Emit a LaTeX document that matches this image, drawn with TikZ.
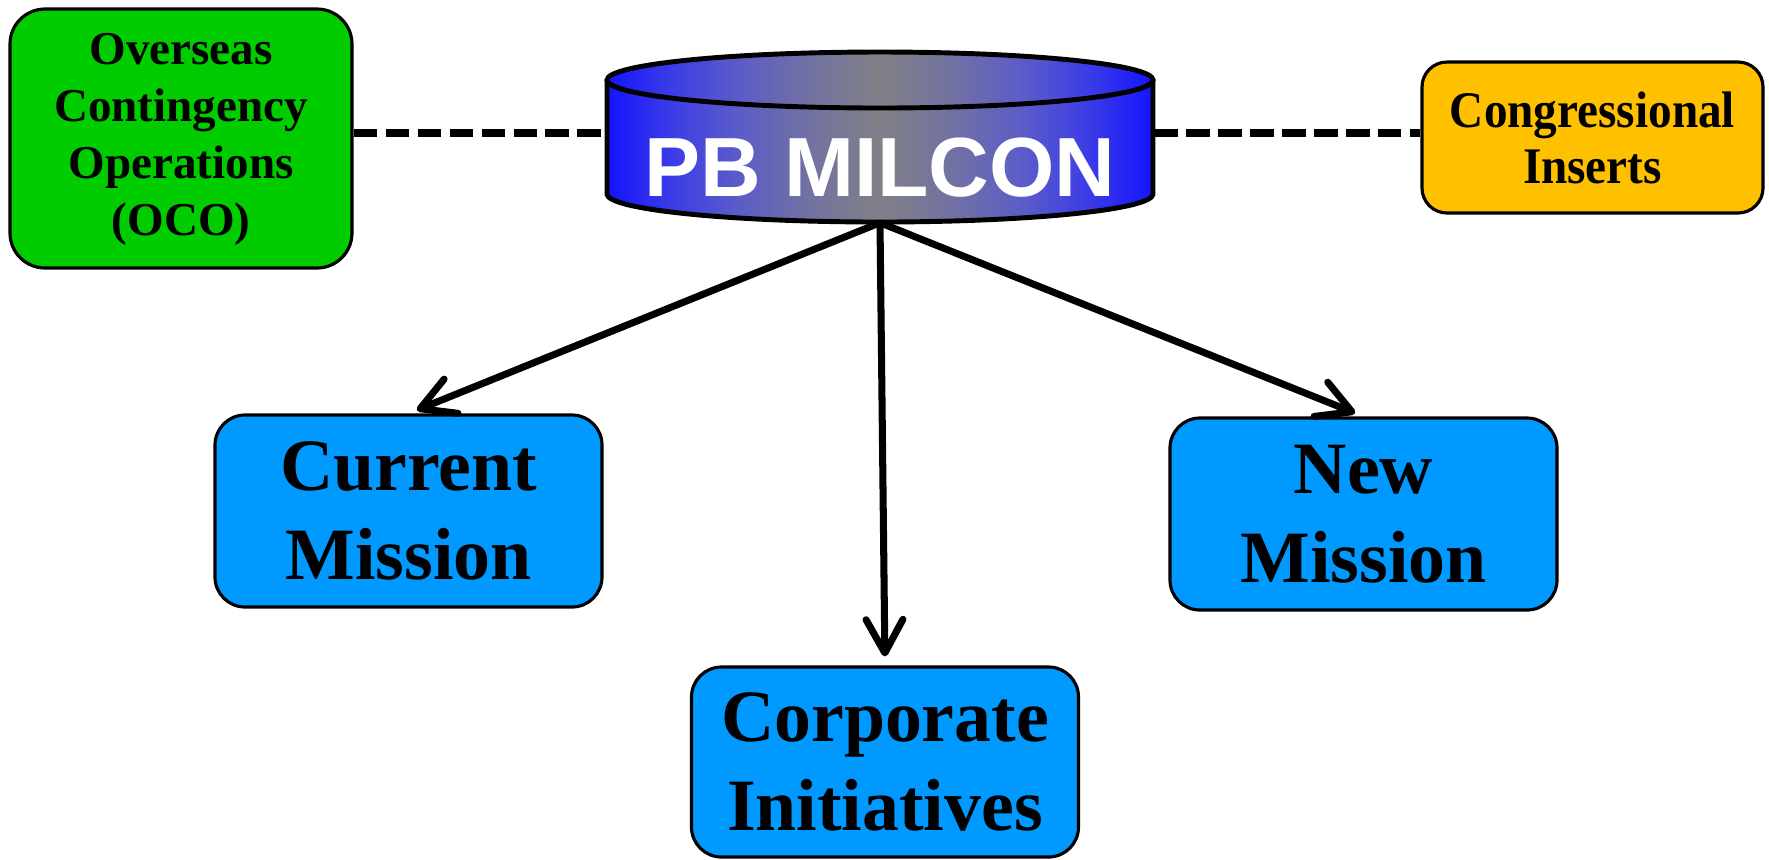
\documentclass[tikz,border=0pt]{standalone}
\usepackage{fontspec}
\setmainfont{Liberation Serif}
\newfontfamily\sansbold{Liberation Sans}
\newfontfamily\condserif[FakeStretch=0.92]{Liberation Serif}
\usetikzlibrary{arrows.meta}
\definecolor{ocogreen}{RGB}{0,204,0}
\definecolor{congorange}{RGB}{255,192,0}
\definecolor{boxblue}{RGB}{0,153,255}
\definecolor{cylblue}{RGB}{20,20,255}
\definecolor{cylmidA}{RGB}{60,60,230}
\definecolor{cylmidB}{RGB}{92,92,200}
\definecolor{cylmidC}{RGB}{115,115,160}
\definecolor{cylgray}{RGB}{128,128,134}
\pgfdeclarehorizontalshading{cylshade}{100bp}{color(0bp)=(cylblue); color(25bp)=(cylblue); color(31bp)=(cylmidA); color(37bp)=(cylmidB); color(44bp)=(cylmidC); color(50bp)=(cylgray); color(56bp)=(cylmidC); color(63bp)=(cylmidB); color(69bp)=(cylmidA); color(75bp)=(cylblue); color(100bp)=(cylblue)}
\tikzset{
  box/.style={draw=black, line width=0.9pt, rounded corners=0.3cm, align=center, inner sep=0pt},
  bigbox/.style={box, fill=boxblue, minimum width=3.87cm, minimum height=1.92cm,
     font=\fontsize{21}{25.3}\selectfont\bfseries},
  smallfont/.style={font=\fontsize{13.4}{16.2}\selectfont\bfseries},
  link/.style={line width=2.2pt, dash pattern=on 6.8pt off 2.3pt},
  feed/.style={line width=2pt, -{Straight Barb[length=9.5pt,width=10.5pt,round]}, shorten >=0.09cm},
  cylfill/.style={shading=cylshade},
}
\begin{document}
\begin{tikzpicture}
\useasboundingbox (0,0) rectangle (17.69,-8.59);
% cylinder drawn directly
\path[cylfill] (6.07,-0.80) -- (6.07,-1.94) arc (180:360:2.73 and 0.28) -- (11.53,-0.80) arc (0:180:2.73 and 0.28) -- cycle;
\path[cylfill] (8.80,-0.80) ellipse (2.73 and 0.28);
\draw[line width=1.4pt, line join=round] (6.07,-0.80) -- (6.07,-1.94) arc (180:360:2.73 and 0.28) -- (11.53,-0.80);
\draw[line width=1.4pt] (8.80,-0.80) ellipse (2.73 and 0.28);
\node (cyl) [inner sep=0pt, minimum width=5.46cm, minimum height=1.78cm, text=white,
   font=\sansbold\fontsize{23.9}{26}\selectfont\bfseries] at (8.80,-1.33) {\raisebox{-0.63cm}[0pt][0pt]{PB MILCON}};
% boxes
\node (oco) [box, fill=ocogreen, minimum width=3.42cm, minimum height=2.59cm, rounded corners=0.35cm, smallfont]
   at (1.81,-1.385) {\raisebox{-0.1cm}{\begin{tabular}{@{}c@{}}Overseas\\Contingency\\Operations\\(OCO)\end{tabular}}};
\node (cong) [box, fill=congorange, minimum width=3.41cm, minimum height=1.51cm, rounded corners=0.25cm,
   font=\condserif\fontsize{14.6}{15.9}\selectfont\bfseries]
   at (15.925,-1.375) {Congressional\\Inserts};
\node (cur) [bigbox] at (4.085,-5.11) {Current\\Mission};
\node (new) [bigbox] at (13.635,-5.14) {New\\Mission};
\node (corp) [bigbox, minimum height=1.90cm] at (8.85,-7.62) {Corporate\\Initiatives};
% connectors
\draw[link] (cyl.west -| oco.east) -- (cyl.west);
\draw[link] (cyl.east) -- (cyl.east -| cong.west);
\draw[feed] (cyl.south) -- (cur.north);
\draw[feed] (cyl.south) -- (corp.north);
\draw[feed] (cyl.south) -- (new.north);
\end{tikzpicture}
\end{document}
